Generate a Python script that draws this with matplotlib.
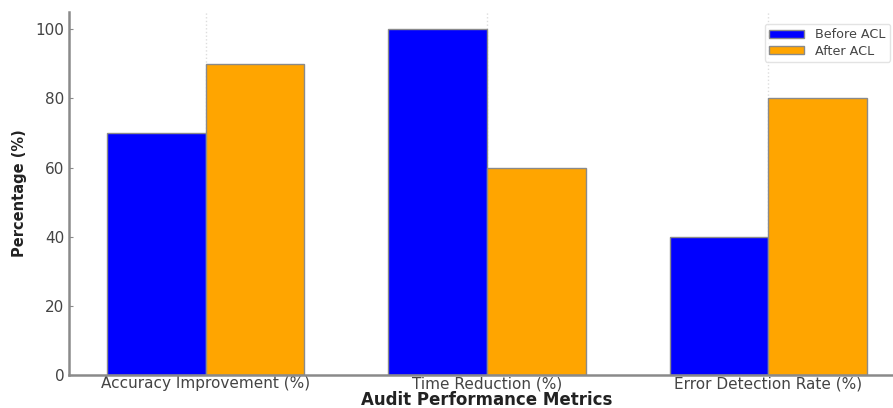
import numpy as np
import matplotlib.pyplot as plt

categories = ["Accuracy Improvement (%)", "Time Reduction (%)", "Error Detection Rate (%)"]
before_acl = [70, 100, 40]
after_acl = [90, 60, 80]
y_ticks = [0, 20, 40, 60, 80, 100]


def main():
    fig = plt.figure(figsize=(8.93, 4.08), dpi=100)
    # axes runs past the right edge, as in the cropped reference
    ax = fig.add_axes([69 / 893, 33 / 408, 836 / 893, 363 / 408])

    x = np.arange(len(categories))
    width = 0.35

    ax.bar(x - width / 2, before_acl, width, color="#0000ff", edgecolor="#8a8a8a",
           linewidth=1, label="Before ACL", zorder=2)
    ax.bar(x + width / 2, after_acl, width, color="#ffa500", edgecolor="#8a8a8a",
           linewidth=1, label="After ACL", zorder=2)

    ax.set_xticks(x)
    ax.set_xticklabels(categories, fontsize=11, color="#444444")
    ax.set_yticks(y_ticks)
    ax.tick_params(axis="y", labelsize=11, labelcolor="#444444", direction="in",
                   length=3, color="#8a8a8a")
    ax.tick_params(axis="x", length=0, pad=1)
    ax.set_xlim(-0.485, 2.485)
    ax.set_ylim(0, 105)

    ax.grid(axis="x", color="#dddddd", linestyle=":", linewidth=1, zorder=0)
    ax.set_axisbelow(True)

    for side in ("top", "right"):
        ax.spines[side].set_visible(False)
    for side in ("left", "bottom"):
        ax.spines[side].set_color("#8a8a8a")
        ax.spines[side].set_linewidth(1.8)

    ax.set_xlabel("Audit Performance Metrics", fontsize=12, fontweight="bold",
                  color="#222222", labelpad=0)
    ax.set_ylabel("Percentage (%)", fontsize=10.5, fontweight="bold",
                  color="#222222", labelpad=6)

    leg = ax.legend(loc="upper right", fontsize=9.2, frameon=True, borderpad=0.35,
                    handlelength=2.7, handleheight=0.6, handletextpad=0.9,
                    labelspacing=0.25, bbox_to_anchor=(0.99, 0.985))
    leg.get_frame().set_edgecolor("#dddddd")
    for t in leg.get_texts():
        t.set_color("#444444")

    fig.savefig("out.png", dpi=100)


if __name__ == "__main__":
    main()
